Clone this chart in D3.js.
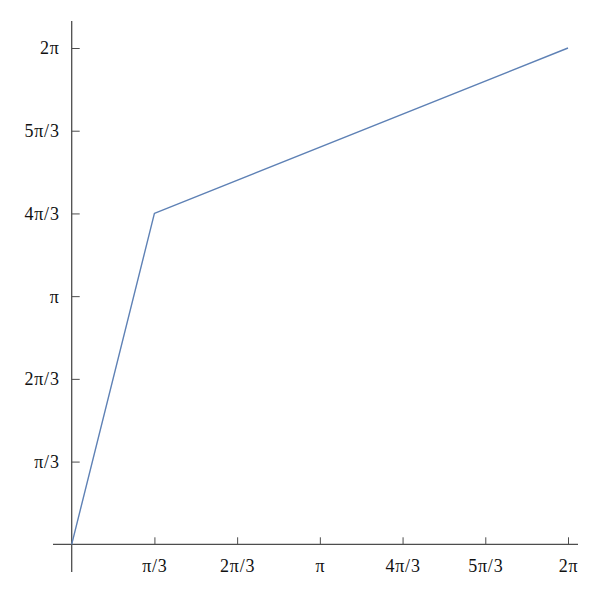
<!DOCTYPE html>
<html>
<head>
<meta charset="utf-8">
<script src="https://cdn.jsdelivr.net/npm/d3@7"></script>
<style>
  html, body { margin: 0; padding: 0; background: #fff; }
  svg { display: block; }
</style>
</head>
<body>
<svg id="chart" width="600" height="594"></svg>
<script>
const PI = Math.PI;
// data
const xValues = [0, PI / 3, 2 * PI];
const yValues = [0, 4 * PI / 3, 2 * PI];
const tickValues = [PI / 3, 2 * PI / 3, PI, 4 * PI / 3, 5 * PI / 3, 2 * PI];
const tickLabels = ["π/3", "2π/3", "π", "4π/3", "5π/3", "2π"];

const svg = d3.select("#chart");
const x = d3.scaleLinear().domain([0, 2 * PI]).range([71.7, 568]);
const y = d3.scaleLinear().domain([0, 2 * PI]).range([544.3, 48]);

const axisColor = "#4d4d4d";
const font = "Liberation Serif";

// x axis
const xAxis = d3.axisBottom(x).tickValues(tickValues).tickSize(-7).tickSizeOuter(0)
  .tickFormat((d, i) => tickLabels[i]);
const gx = svg.append("g").attr("transform", `translate(0,${y(0)})`).call(xAxis);
gx.select(".domain").remove();
gx.append("line").attr("x1", 53).attr("x2", 578).attr("stroke", axisColor).attr("stroke-width", 1.3);
gx.selectAll(".tick line").attr("stroke", axisColor).attr("stroke-width", 1);
gx.selectAll(".tick text").attr("fill", "#111").attr("font-family", font).attr("font-size", 18)
  .attr("letter-spacing", "0.8px").attr("y", 27.5).attr("dy", 0);

// y axis
const yAxis = d3.axisLeft(y).tickValues(tickValues).tickSize(-8).tickSizeOuter(0)
  .tickFormat((d, i) => tickLabels[i]);
const gy = svg.append("g").attr("transform", `translate(${x(0)},0)`).call(yAxis);
gy.select(".domain").remove();
gy.append("line").attr("y1", 21).attr("y2", 572).attr("stroke", axisColor).attr("stroke-width", 1.3);
gy.selectAll(".tick line").attr("stroke", axisColor).attr("stroke-width", 1);
gy.selectAll(".tick text").attr("fill", "#111").attr("font-family", font).attr("font-size", 18)
  .attr("letter-spacing", "0.8px").attr("x", -12).attr("dy", "0.33em");

// line
const pts = xValues.map((v, i) => [v, yValues[i]]);
svg.append("path").datum(pts)
  .attr("fill", "none").attr("stroke", "#5e81b5").attr("stroke-width", 1.4)
  .attr("stroke-linejoin", "round")
  .attr("d", d3.line().x(d => x(d[0])).y(d => y(d[1])));
</script>
</body>
</html>
